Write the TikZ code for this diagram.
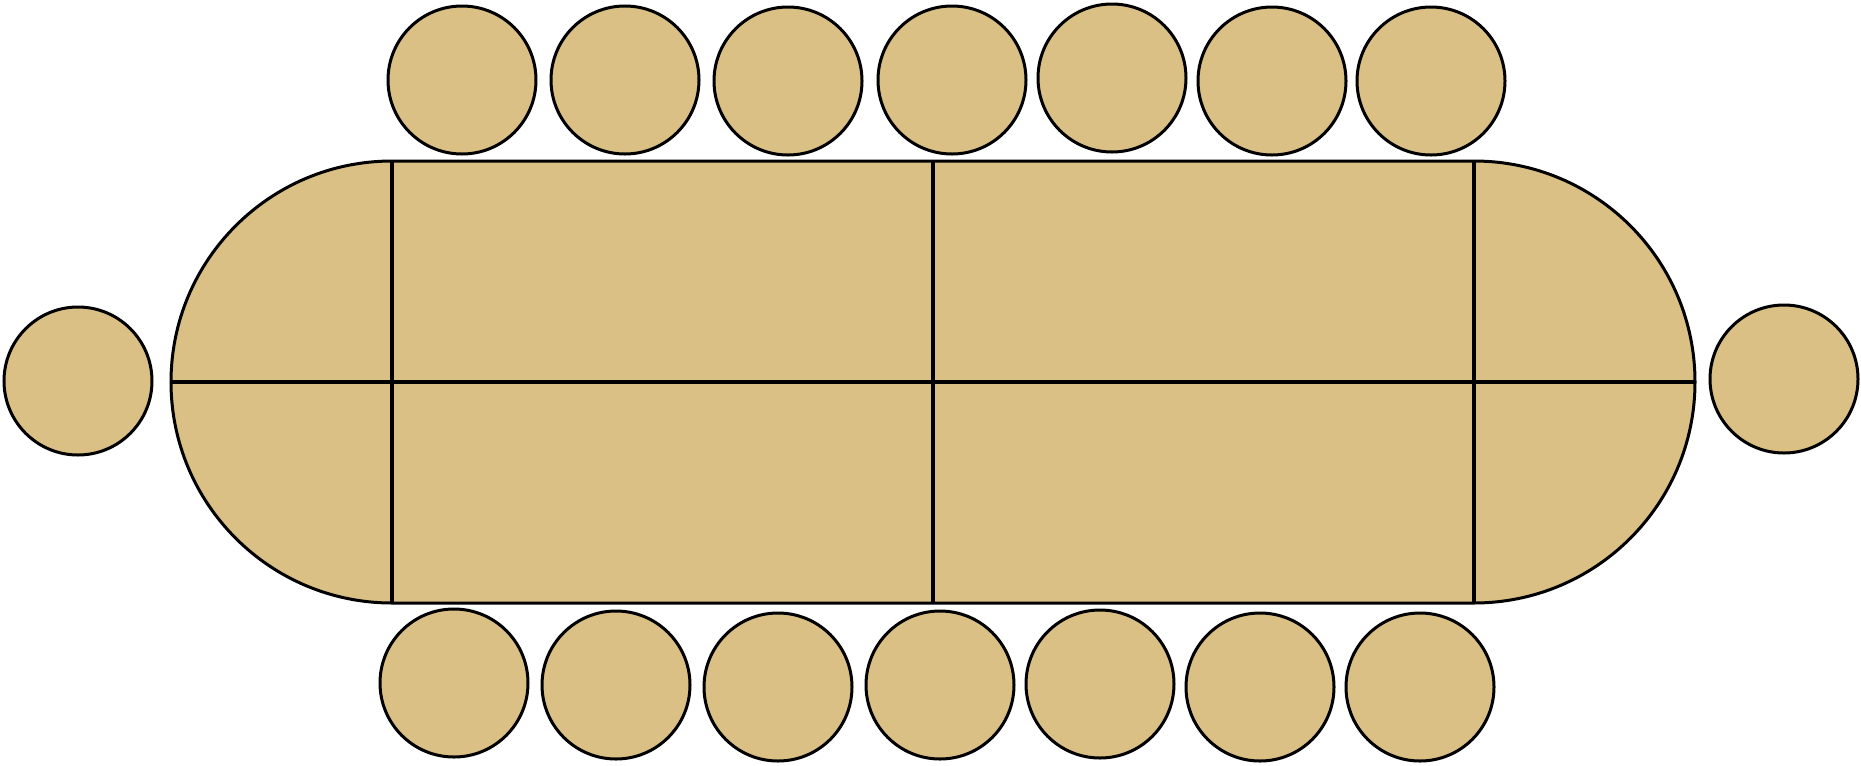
\documentclass[tikz,border=0pt]{standalone}
\usepackage{tikz}
\usepackage{color}

\begin{document}
\begin{tikzpicture}[x=0.75pt,y=0.75pt,yscale=-1,xscale=1,
  wood/.style={fill={rgb, 255:red, 218; green, 192; blue, 132}, draw=black, line width=2.25pt},
  chair/.style={wood, circle, inner sep=0pt, outer sep=0pt, minimum size=111pt},
  seam/.style={draw=black, line width=2.4pt}]
\useasboundingbox (0,0) rectangle (1861,765);

%Table: two half rounds and two leaves
\draw [wood] (392,161) -- (1474,161) arc [start angle=-90, end angle=90, radius=221] -- (392,603) arc [start angle=90, end angle=270, radius=221] -- cycle ;
\coordinate (tl) at (171,382) ;
\coordinate (tr) at (1695,382) ;
\draw [seam] (tl) -- (tr) ;
\foreach \sx in {392,933,1474}
  \draw [seam] (\sx,161) -- (\sx,603) ;

%Chairs along the top side
\foreach \cx/\cy [count=\i] in {462/80, 625/80, 788/81, 952/80, 1112/78, 1272/81, 1431/81}
  \node [chair] (top\i) at (\cx,\cy) {} ;

%Chairs along the bottom side
\foreach \cx/\cy [count=\i] in {454/683, 616/685, 778/687, 940/685, 1100/684, 1260/687, 1420/687}
  \node [chair] (bottom\i) at (\cx,\cy) {} ;

%Chairs at the two ends
\node [chair] (headL) at (78,381) {} ;
\node [chair] (headR) at (1784,379) {} ;

\end{tikzpicture}
\end{document}
